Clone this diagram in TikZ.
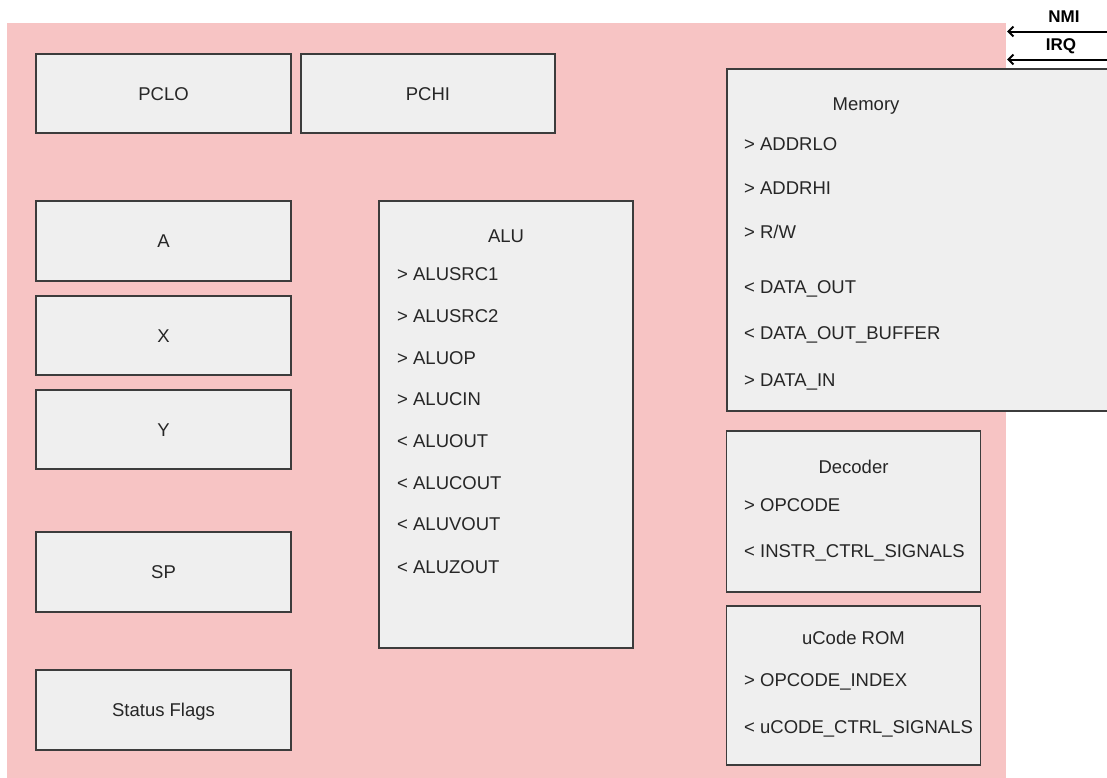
\documentclass[tikz,border=0pt]{standalone}
\usepackage{fontspec}
\setmainfont{Liberation Sans}
\usetikzlibrary{arrows.meta}

\definecolor{bgpink}{HTML}{F7C4C4}
\definecolor{boxfill}{HTML}{EFEFEF}
\definecolor{boxline}{HTML}{3C3C3C}
\definecolor{txt}{HTML}{262626}

\tikzset{
  unitbox/.style={draw=boxline, line width=1.4pt, fill=boxfill, inner sep=0pt,
    text=txt, text height=13.3pt, text depth=0pt, align=center},
  title/.style={inner sep=0pt, text=txt, text height=13.3pt, text depth=0pt},
  port/.style={anchor=west, inner sep=0pt, text=txt, text height=13.3pt, text depth=0pt},
  sig/.style={inner sep=0pt, text=black, font=\fontsize{17}{20}\selectfont\bfseries,
    text height=12.5pt, text depth=0pt},
  sigline/.style={line width=2pt, -{Straight Barb[length=5pt,width=10pt,line width=2pt]}}
}

\begin{document}
\begin{tikzpicture}[x=1pt, y=-1pt, font=\fontsize{18.5}{22}\selectfont]
  \clip (0,0) rectangle (1107,777);
  \path[use as bounding box] (0,0) rectangle (1107,777);

  % CPU area
  \fill[bgpink] (7,23) rectangle (1006,790);

  % interrupt inputs
  \coordinate (nmiin) at (1110,31.5);
  \coordinate (nmiat) at (1007,31.5);
  \coordinate (irqin) at (1110,59.5);
  \coordinate (irqat) at (1007,59.5);
  \draw[sigline] (nmiin) -- (nmiat);
  \draw[sigline] (irqin) -- (irqat);
  \node[sig] (nmilbl) at (1064,16.5) {NMI};
  \node[sig] (irqlbl) at (1061,44) {IRQ};

  % program counter
  \node[unitbox, minimum width=255pt, minimum height=79pt] (pclo) at (163.5,93.5) {PCLO};
  \node[unitbox, minimum width=254pt, minimum height=79pt] (pchi) at (428,93.5) {PCHI};

  % registers
  \node[unitbox, minimum width=255pt, minimum height=80pt] (rega) at (163.5,241) {A};
  \node[unitbox, minimum width=255pt, minimum height=79pt] (regx) at (163.5,335.5) {X};
  \node[unitbox, minimum width=255pt, minimum height=79pt] (regy) at (163.5,429.5) {Y};
  \node[unitbox, minimum width=255pt, minimum height=80pt] (regsp) at (163.5,572) {SP};
  \node[unitbox, minimum width=255pt, minimum height=80pt] (flags) at (163.5,710) {Status Flags};

  % ALU
  \node[unitbox, minimum width=254pt, minimum height=447pt] (alu) at (506,424.5) {};
  \node[title] (alut) at (506,236) {ALU};
  \node[port] (alu1) at (397,274) {> ALUSRC1};
  \node[port] (alu2) at (397,316) {> ALUSRC2};
  \node[port] (alu3) at (397,358) {> ALUOP};
  \node[port] (alu4) at (397,399) {> ALUCIN};
  \node[port] (alu5) at (397,441) {< ALUOUT};
  \node[port] (alu6) at (397,483) {< ALUCOUT};
  \node[port] (alu7) at (397,524) {< ALUVOUT};
  \node[port] (alu8) at (397,567) {< ALUZOUT};

  % memory interface
  \node[unitbox, minimum width=390pt, minimum height=342pt] (mem) at (922,240) {};
  \node[title] (memt) at (866,104) {Memory};
  \node[port] (mem1) at (744,144) {> ADDRLO};
  \node[port] (mem2) at (744,188) {> ADDRHI};
  \node[port] (mem3) at (744,232) {> R/W};
  \node[port] (mem4) at (744,287) {< DATA\_OUT};
  \node[port] (mem5) at (744,333) {< DATA\_OUT\_BUFFER};
  \node[port] (mem6) at (744,380) {> DATA\_IN};

  % instruction decoder
  \node[unitbox, minimum width=254pt, minimum height=161pt] (dec) at (853.5,511.5) {};
  \node[title] (dect) at (853.5,467) {Decoder};
  \node[port] (dec1) at (744,505) {> OPCODE};
  \node[port] (dec2) at (744,551) {< INSTR\_CTRL\_SIGNALS};

  % microcode ROM
  \node[unitbox, minimum width=254pt, minimum height=159pt] (rom) at (853.5,685.5) {};
  \node[title] (romt) at (853.5,638) {uCode ROM};
  \node[port] (rom1) at (744,680) {> OPCODE\_INDEX};
  \node[port] (rom2) at (744,727) {< uCODE\_CTRL\_SIGNALS};
\end{tikzpicture}
\end{document}
